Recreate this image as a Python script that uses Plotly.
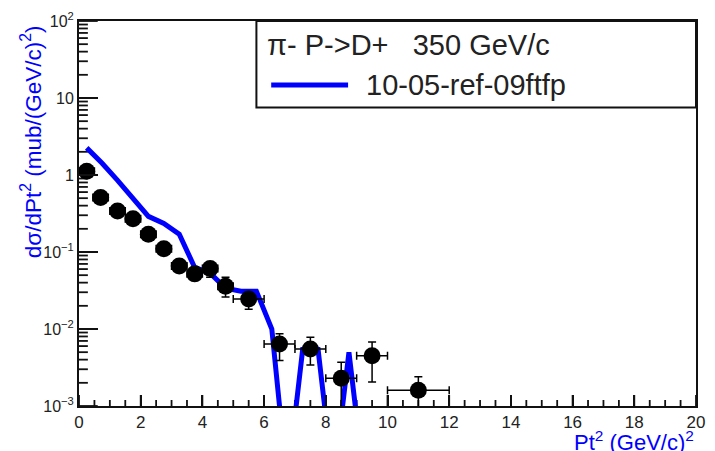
import plotly.graph_objects as go

# ---- data ----
x_data = [0.25, 0.7, 1.25, 1.75, 2.25, 2.75, 3.25, 3.75, 4.25, 4.75, 5.5, 6.5, 7.5, 8.5, 9.5, 11.0]
y_data = [1.12, 0.51, 0.34, 0.27, 0.17, 0.11, 0.066, 0.052, 0.061, 0.036, 0.0245, 0.0064, 0.0055, 0.0023, 0.0045, 0.0016]
x_err = [0.25, 0.25, 0.25, 0.25, 0.25, 0.25, 0.25, 0.25, 0.25, 0.25, 0.5, 0.5, 0.5, 0.5, 0.5, 1.0]
y_high = [1.25, 0.56, 0.37, 0.295, 0.19, 0.122, 0.074, 0.058, 0.072, 0.047, 0.030, 0.0087, 0.0078, 0.0037, 0.0068, 0.0024]
y_low = [1.0, 0.46, 0.31, 0.245, 0.15, 0.098, 0.058, 0.046, 0.047, 0.026, 0.018, 0.0039, 0.0034, 0.0001, 0.00205, 0.0001]

x_model = [0.25, 0.75, 1.25, 1.75, 2.25, 2.75, 3.25, 3.75, 4.25, 4.75, 5.25, 5.75, 6.25, 6.75, 7.25, 7.75, 8.25, 8.75, 9.25]
y_model = [2.25, 1.42, 0.85, 0.49, 0.29, 0.235, 0.17, 0.063, 0.053, 0.034, 0.031, 0.031, 0.010, 0.0001, 0.0054, 0.0054, 0.0001, 0.005, 0.0001]

x_tickvals = [0, 2, 4, 6, 8, 10, 12, 14, 16, 18, 20]
y_tickvals = [0.001, 0.01, 0.1, 1, 10, 100]
y_ticktext = ["10<sup>\u22123</sup>", "10<sup>\u22122</sup>", "10<sup>\u22121</sup>", "1", "10", "10<sup>2</sup>"]

legend_header = "\u03c0- P->D+\u00a0\u00a0\u00a0350 GeV/c"
model_name = "10-05-ref-09ftfp"
x_title = "Pt<sup>2</sup> (GeV/c)<sup>2</sup>"
y_title = "d\u03c3/dPt<sup>2</sup> (mub/(GeV/c)<sup>2</sup>)"

FONT = "Liberation Sans, Arial, Helvetica, sans-serif"
W, H = 715, 451
L, R, T, B = 79, 10, 21, 45
PW, PH = W - L - R, H - T - B
X_RANGE = [0, 20]
Y_LOG_RANGE = [-3, 2]
AXIS_COLOR = "#111111"


def px(xp):
    return (xp - L) / PW


def py(yp):
    return (H - B - yp) / PH


err_plus = [h - y for h, y in zip(y_high, y_data)]
err_minus = [y - l for y, l in zip(y_data, y_low)]

# tick marks as one-sided error bars anchored on the axes (derived from tick values / lengths in px)
x_minor = [a + d for a in x_tickvals[:-1] for d in (0.5, 1.0, 1.5)]
y_minor = [m * v for v in y_tickvals[:-1] for m in range(2, 10)]
x_per_px = (X_RANGE[1] - X_RANGE[0]) / PW
dec_per_px = (Y_LOG_RANGE[1] - Y_LOG_RANGE[0]) / PH
y_bottom = 10 ** Y_LOG_RANGE[0]

fig = go.Figure()
for vals, ln in ((x_tickvals, 11), (x_minor, 6)):
    fig.add_trace(go.Scatter(
        x=vals, y=[y_bottom] * len(vals), mode="markers",
        marker=dict(size=1, opacity=0), hoverinfo="skip", showlegend=False, cliponaxis=False,
        error_y=dict(type="data", symmetric=False,
                     array=[10 ** (Y_LOG_RANGE[0] + ln * dec_per_px) - y_bottom] * len(vals),
                     arrayminus=[0] * len(vals), color=AXIS_COLOR, thickness=1.8, width=0),
    ))
for vals, ln in ((y_tickvals, 19), (y_minor, 9)):
    fig.add_trace(go.Scatter(
        x=[X_RANGE[0]] * len(vals), y=vals, mode="markers",
        marker=dict(size=1, opacity=0), hoverinfo="skip", showlegend=False, cliponaxis=False,
        error_x=dict(type="data", symmetric=False, array=[ln * x_per_px] * len(vals),
                     arrayminus=[0] * len(vals), color=AXIS_COLOR, thickness=1.8, width=0),
    ))

fig.add_trace(go.Scatter(
    x=x_model, y=y_model, mode="lines", name=model_name,
    line=dict(color="#0000ff", width=5), showlegend=False,
))
fig.add_trace(go.Scatter(
    x=x_data, y=y_data, mode="markers", name="data",
    marker=dict(color="black", size=17, symbol="circle"),
    error_x=dict(type="data", array=x_err, color="black", thickness=1.5, width=4),
    error_y=dict(type="data", array=err_plus, arrayminus=err_minus, symmetric=False,
                 color="black", thickness=1.5, width=4),
    showlegend=False, cliponaxis=True,
))

fig.update_layout(
    width=W, height=H,
    margin=dict(l=L, r=R, t=T, b=B, pad=0),
    paper_bgcolor="white", plot_bgcolor="white",
    font=dict(family=FONT, color="#222"),
    showlegend=False,
    xaxis=dict(
        range=X_RANGE, showline=True, linecolor=AXIS_COLOR, linewidth=2, mirror=True,
        ticks="inside", ticklen=11, tickwidth=2, tickcolor=AXIS_COLOR,
        tickmode="array", tickvals=x_tickvals, showgrid=False, zeroline=False,
        tickfont=dict(size=17, family=FONT, color="#222"),
    ),
    yaxis=dict(
        type="log", range=Y_LOG_RANGE, showline=True, linecolor=AXIS_COLOR, linewidth=2, mirror=True,
        ticks="inside", ticklen=19, tickwidth=2, tickcolor=AXIS_COLOR,
        tickmode="array", tickvals=y_tickvals, ticktext=y_ticktext,
        showgrid=False, zeroline=False,
        tickfont=dict(size=16, family=FONT, color="#222"),
    ),
    shapes=[
        dict(type="rect", xref="paper", yref="paper", x0=px(259), x1=1.0, y0=py(107.5), y1=1.0,
             line=dict(color=AXIS_COLOR, width=2), fillcolor="white", layer="above"),
        dict(type="line", xref="paper", yref="paper", x0=px(274), x1=px(352), y0=py(85), y1=py(85),
             line=dict(color="#0000ff", width=5), layer="above"),
    ],
    annotations=[
        dict(text=legend_header, xref="paper", yref="paper", x=px(268), y=py(45),
             xanchor="left", yanchor="middle", showarrow=False,
             font=dict(size=29, family=FONT, color="#222")),
        dict(text=model_name, xref="paper", yref="paper", x=px(368), y=py(85),
             xanchor="left", yanchor="middle", showarrow=False,
             font=dict(size=29, family=FONT, color="#222")),
        dict(text=x_title, xref="paper", yref="paper", x=px(705), y=py(441),
             xanchor="right", yanchor="middle", showarrow=False,
             font=dict(size=22, family=FONT, color="#0000ff")),
        dict(text=y_title, xref="paper", yref="paper", x=px(30), y=py(23),
             xanchor="center", yanchor="top", textangle=-90, showarrow=False,
             font=dict(size=22.5, family=FONT, color="#0000ff")),
    ],
)

fig.write_html("out.html")
